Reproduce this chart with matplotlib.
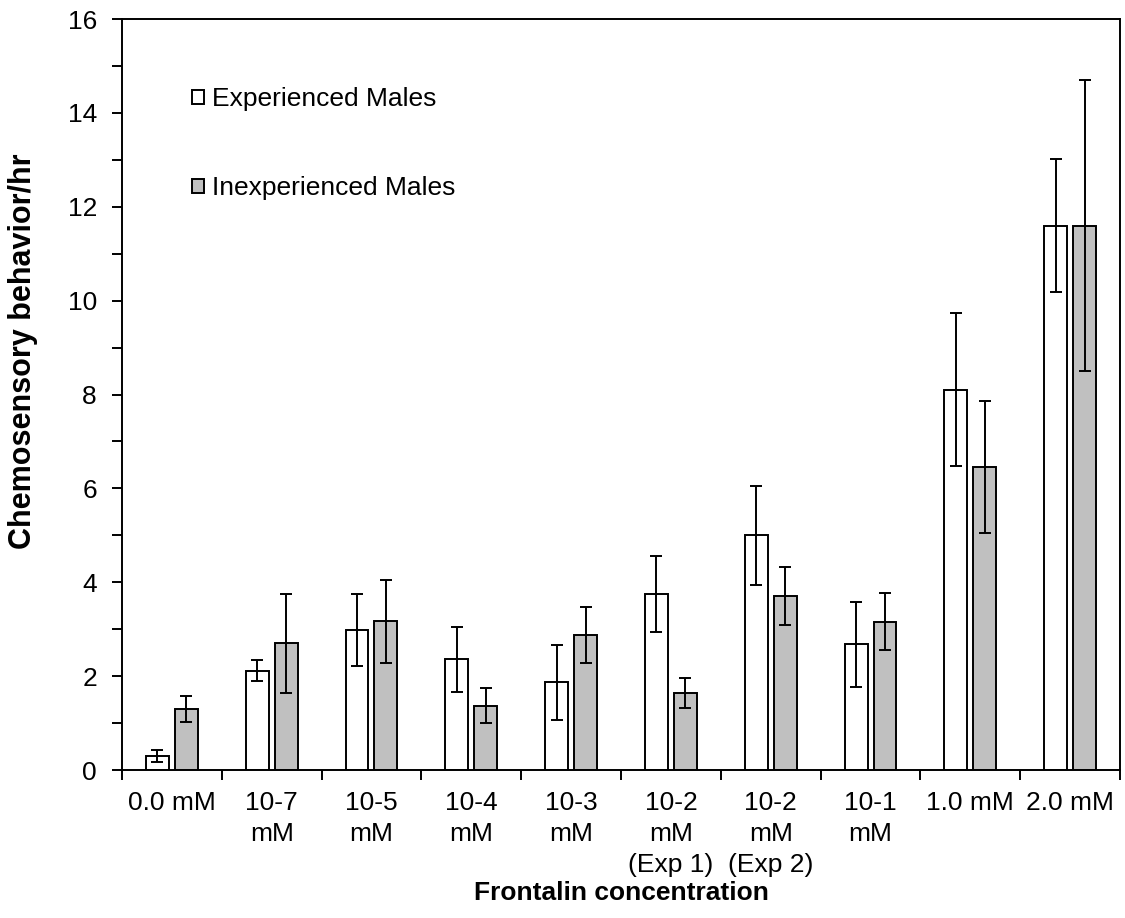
import numpy as np
import matplotlib
matplotlib.use("Agg")
import matplotlib.pyplot as plt
from matplotlib.ticker import MultipleLocator

plt.rcParams['font.family'] = ['Liberation Sans', 'DejaVu Sans']

# data
categories = ["0.0 mM", "10-7\nmM", "10-5\nmM", "10-4\nmM", "10-3\nmM",
              "10-2\nmM\n(Exp 1)", "10-2\nmM\n(Exp 2)", "10-1\nmM",
              "1.0 mM", "2.0 mM"]
experienced = [0.30, 2.12, 2.98, 2.36, 1.87, 3.76, 5.00, 2.68, 8.10, 11.60]
experienced_err = [0.12, 0.23, 0.76, 0.69, 0.80, 0.81, 1.06, 0.91, 1.63, 1.42]
inexperienced = [1.30, 2.70, 3.17, 1.37, 2.88, 1.64, 3.71, 3.16, 6.45, 11.60]
inexperienced_err = [0.28, 1.05, 0.88, 0.37, 0.60, 0.32, 0.62, 0.61, 1.41, 3.10]

fig = plt.figure(figsize=(11.25, 9.18), dpi=100)
ax = fig.add_axes([0.1084, 0.1612, 0.8872, 0.8181])

x = np.arange(len(categories))
w = 0.23
off = 0.145
err_kw = dict(ecolor='black', elinewidth=1.4, capsize=4, capthick=1.4)

ax.bar(x - off, experienced, w, yerr=experienced_err, color='white',
       edgecolor='black', linewidth=1.4, error_kw=err_kw,
       label='Experienced Males')
ax.bar(x + off, inexperienced, w, yerr=inexperienced_err, color='#c0c0c0',
       edgecolor='black', linewidth=1.4, error_kw=err_kw,
       label='Inexperienced Males')

ax.set_xlim(-0.5, len(categories) - 0.5)
ax.set_ylim(0, 16)

# ticks between categories, labels at centers
ax.set_xticks(np.arange(len(categories) + 1) - 0.5)
ax.set_xticklabels([])
ax.set_xticks(x, minor=True)
ax.set_xticklabels(categories, minor=True, fontsize=19, linespacing=1.36,
                   va='top')
ax.tick_params(axis='x', which='major', direction='out', length=7, width=1.4)
ax.tick_params(axis='x', which='minor', length=0, pad=15)

ax.yaxis.set_major_locator(MultipleLocator(2))
ax.yaxis.set_minor_locator(MultipleLocator(1))
ax.tick_params(axis='y', which='both', direction='out', length=7, width=1.4,
               labelsize=19, pad=11)

for s in ax.spines.values():
    s.set_linewidth(1.4)

ax.set_xlabel("Frontalin concentration", fontsize=19, fontweight='bold',
              labelpad=3)
ax.set_ylabel("Chemosensory behavior/hr", fontsize=22, fontweight='bold')
ax.yaxis.set_label_coords(-0.084, 0.557)

ax.legend(loc='upper left', bbox_to_anchor=(0.07, 0.909), frameon=False,
          fontsize=19, handlelength=0.45, handleheight=0.45,
          handletextpad=0.3, labelspacing=2.45, borderpad=0,
          borderaxespad=0)

fig.savefig("out.png", dpi=100)
